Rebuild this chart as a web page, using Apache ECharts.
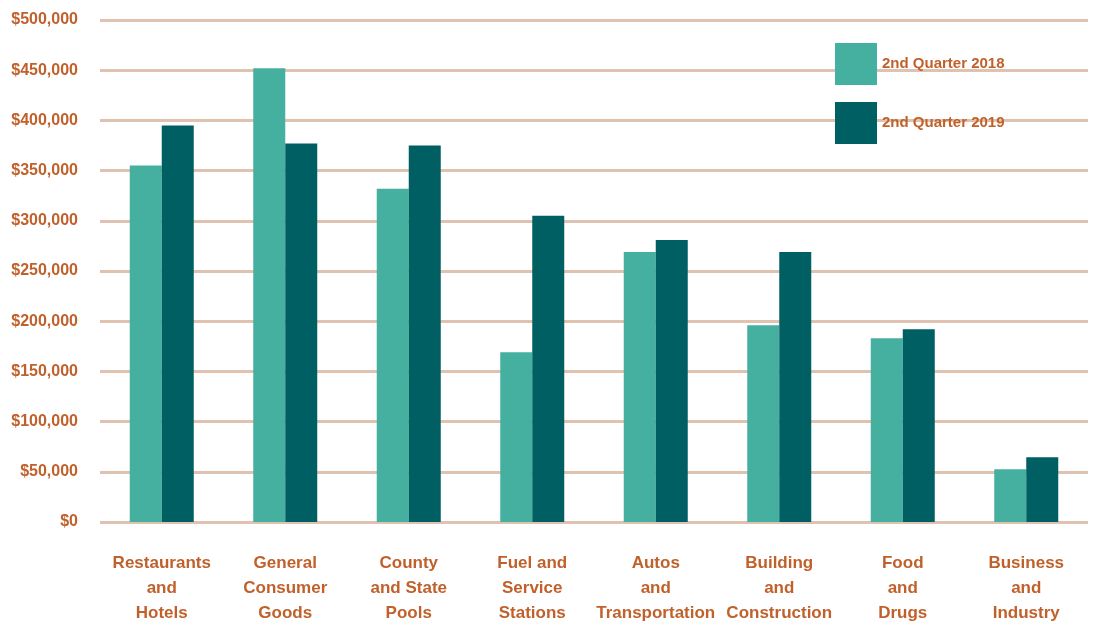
<!DOCTYPE html>
<html>
<head>
<meta charset="utf-8">
<script src="https://cdn.jsdelivr.net/npm/echarts@6/dist/echarts.min.js"></script>
<style>html,body{margin:0;padding:0;background:#fff}#c{width:1097px;height:626px}</style>
</head>
<body>
<div id="c"></div>
<script>
const categories = ['Restaurants\nand\nHotels','General\nConsumer\nGoods','County\nand State\nPools','Fuel and\nService\nStations','Autos\nand\nTransportation','Building\nand\nConstruction','Food\nand\nDrugs','Business\nand\nIndustry'];
const q2018 = [355000, 452000, 332000, 169000, 269000, 196000, 183000, 52500];
const q2019 = [395000, 377000, 375000, 305000, 281000, 269000, 192000, 64500];
const seriesNames = ['2nd Quarter 2018','2nd Quarter 2019'];
const txt = '#C0612B';
const font = "'Liberation Sans',Arial,sans-serif";
const chart = echarts.init(document.getElementById('c'));
chart.setOption({
  animation:false,
  grid:{left:100,right:9,top:20,bottom:102},
  legend:{orient:'vertical',left:830,top:38,padding:5,itemWidth:42,itemHeight:42,itemGap:17,
    icon:'rect',
    textStyle:{color:txt,fontWeight:'bold',fontSize:15,fontFamily:font},
    data:seriesNames},
  xAxis:{type:'category',data:categories,
    axisLine:{show:false},axisTick:{show:false},
    axisLabel:{interval:0,color:txt,fontWeight:'bold',fontSize:17,lineHeight:25,margin:29,fontFamily:font}},
  yAxis:{type:'value',min:0,max:500000,interval:50000,
    axisLine:{show:false},axisTick:{show:false},
    splitLine:{lineStyle:{color:'#DFC3B0',width:3}},
    axisLabel:{color:txt,fontWeight:'bold',fontSize:16,margin:22,fontFamily:font,
      formatter:v=>'$'+v.toLocaleString('en-US')}},
  series:[
    {name:seriesNames[0],type:'bar',data:q2018,barWidth:32,barGap:'0%',itemStyle:{color:'#45AFA0'}},
    {name:seriesNames[1],type:'bar',data:q2019,barWidth:32,itemStyle:{color:'#005F63'}}
  ]
});
</script>
</body>
</html>
